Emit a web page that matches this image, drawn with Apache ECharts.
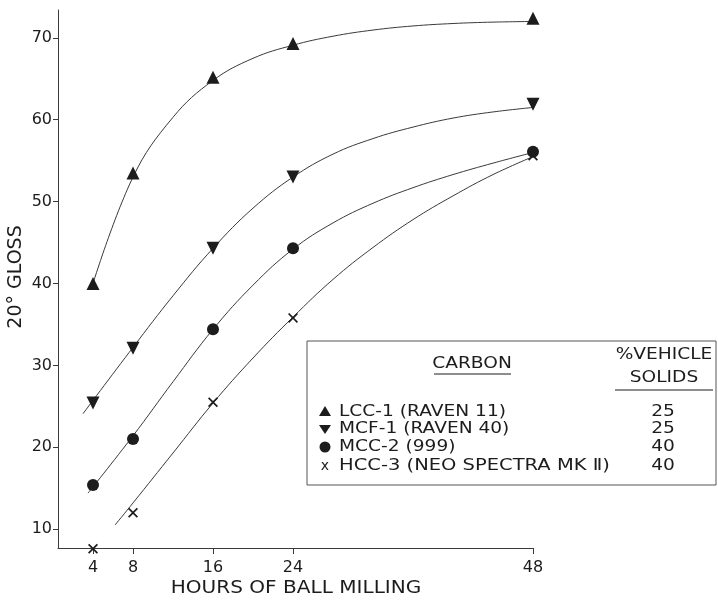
<!DOCTYPE html>
<html>
<head>
<meta charset="utf-8">
<script src="https://cdn.jsdelivr.net/npm/echarts@6/dist/echarts.min.js"></script>
<style>
  html, body { margin: 0; padding: 0; background: #fff; }
  #chart { width: 718px; height: 602px; }
</style>
</head>
<body>
<div id="chart"></div>
<script>
// Milling time (hours) at which gloss was measured
const hours = [4, 8, 16, 24, 48];
const xTicks = [4, 8, 16, 24, 48];
const yTicks = [10, 20, 30, 40, 50, 60, 70];

// Measured 20° gloss for each carbon
const lcc1 = [40, 53.5, 65.2, 69.3, 72.4];
const mcf1 = [25.4, 32.1, 44.3, 53, 61.9];
const mcc2 = [15.4, 21, 34.4, 44.3, 56.1];
const hcc3 = [7.6, 12, 25.5, 35.8, 55.6];

// Hand-faired curves through each set of points: [hours, gloss]
const lcc1Curve = [[4, 40], [8, 53], [12, 60.3], [16, 64.8], [20, 67.5], [24, 69.1], [28, 70.2], [32, 70.95], [36, 71.45], [40, 71.75], [44, 71.92], [48, 72]];
const mcf1Curve = [[3, 24.1], [8, 32.2], [12, 38.5], [16, 44.3], [20, 49.2], [24, 53], [28, 55.8], [32, 57.7], [36, 59.1], [40, 60.2], [44, 60.95], [48, 61.5]];
const mcc2Curve = [[3.5, 14.4], [8, 21.4], [12, 28], [16, 34.4], [20, 39.8], [24, 44.2], [28, 47.4], [32, 49.8], [36, 51.7], [40, 53.3], [44, 54.7], [48, 56]];
const hcc3Curve = [[6.2, 10.5], [8, 13.2], [12, 19.3], [16, 25.4], [20, 30.9], [24, 35.9], [28, 40.5], [32, 44.4], [36, 47.8], [40, 50.7], [44, 53.3], [48, 55.5]];

// Legend rows: carbon name, % vehicle solids
const legendNames = ['LCC-1 (RAVEN 11)', 'MCF-1 (RAVEN 40)', 'MCC-2 (999)', 'HCC-3 (NEO SPECTRA MK \u2161)'];
const legendSolids = ['25', '25', '40', '40'];

const FONT = 'DejaVu Sans';
const INK = '#1c1c1c';
const LINE = '#3a3a3a';
const WIDE = 1.24; // horizontal stretch for the wide lettering

const xMark = 'path://M0,1.2 L1.2,0 L5,3.8 L8.8,0 L10,1.2 L6.2,5 L10,8.8 L8.8,10 L5,6.2 L1.2,10 L0,8.8 L3.8,5 Z';

const chart = echarts.init(document.getElementById('chart'), null, { renderer: 'canvas' });

function pairs(vals) { return hours.map((h, i) => [h, vals[i]]); }

function curve(data) {
  return {
    type: 'line', data: data, smooth: 0.4, showSymbol: false, silent: true,
    lineStyle: { color: LINE, width: 1 }, z: 2
  };
}
function marks(vals, symbol, size, rotate) {
  return {
    type: 'scatter', data: pairs(vals), symbol: symbol, symbolSize: size,
    symbolRotate: rotate || 0, clip: false,
    itemStyle: { color: INK, opacity: 1 }, z: 3
  };
}
function label(text, x, y, align, size, sx) {
  return {
    type: 'text', x: x, y: y, scaleX: sx || WIDE,
    style: { text: text, font: size + 'px ' + FONT, fill: INK, align: align, verticalAlign: 'middle' }
  };
}

// Legend block (table with two columns)
const boxX = 307, boxY = 341, rowY = [412, 429, 447, 466];
const legendGraphics = [
  { type: 'rect', shape: { x: boxX, y: boxY, width: 409, height: 144 },
    style: { fill: 'none', stroke: '#555', lineWidth: 1 } },
  label('CARBON', 472, 364, 'center', 15),
  { type: 'line', shape: { x1: 434, y1: 374, x2: 511, y2: 374 }, style: { stroke: INK, lineWidth: 1 } },
  label('%VEHICLE', 664, 355, 'center', 15),
  label('SOLIDS', 664, 378, 'center', 15),
  { type: 'line', shape: { x1: 615, y1: 390, x2: 713, y2: 390 }, style: { stroke: INK, lineWidth: 1 } }
];
legendNames.forEach((name, i) => {
  legendGraphics.push(label(name, 339, rowY[i], 'left', 15, i === 3 ? 1.3 : WIDE));
  legendGraphics.push(label(legendSolids[i], 663, rowY[i], 'center', 15));
});
// legend markers
legendGraphics.push(
  { type: 'polygon', shape: { points: [[325, rowY[0] - 6], [331, rowY[0] + 4], [319, rowY[0] + 4]] }, style: { fill: INK } },
  { type: 'polygon', shape: { points: [[319, rowY[1] - 4], [331, rowY[1] - 4], [325, rowY[1] + 5]] }, style: { fill: INK } },
  { type: 'circle', shape: { cx: 325, cy: rowY[2], r: 5.5 }, style: { fill: INK } },
  { type: 'text', x: 325, y: rowY[3], style: { text: 'x', font: '14px ' + FONT, fill: INK, align: 'center', verticalAlign: 'middle' } }
);

const option = {
  backgroundColor: '#ffffff',
  animation: false,
  grid: { left: 58, top: 10, width: 475, height: 538, containLabel: false, outerBoundsMode: 'none' },
  xAxis: {
    type: 'value', min: 0.5, max: 48,
    axisLine: { lineStyle: { color: LINE, width: 1 } },
    axisTick: { show: true, length: 6, customValues: xTicks, lineStyle: { color: LINE } },
    axisLabel: { customValues: xTicks, margin: 12, fontFamily: FONT, fontSize: 16, color: INK },
    splitLine: { show: false }
  },
  yAxis: {
    type: 'value', min: 7.7, max: 73.4,
    axisLine: { show: true, lineStyle: { color: LINE, width: 1 } },
    axisTick: { show: true, length: 5, customValues: yTicks, lineStyle: { color: LINE } },
    axisLabel: { customValues: yTicks, margin: 6, fontFamily: FONT, fontSize: 16, color: INK },
    splitLine: { show: false }
  },
  graphic: [
    { type: 'text', x: 16, y: 277, rotation: Math.PI / 2,
      style: { text: '20° GLOSS', font: '19px ' + FONT, fill: INK, align: 'center', verticalAlign: 'middle' } },
    label('HOURS OF BALL MILLING', 296, 589, 'center', 17, 1.18)
  ].concat(legendGraphics),
  series: [
    curve(lcc1Curve), curve(mcf1Curve), curve(mcc2Curve), curve(hcc3Curve),
    marks(lcc1, 'triangle', 13),
    marks(mcf1, 'triangle', 13, 180),
    marks(mcc2, 'circle', 12),
    marks(hcc3, xMark, 10)
  ]
};

chart.setOption(option);
</script>
</body>
</html>
